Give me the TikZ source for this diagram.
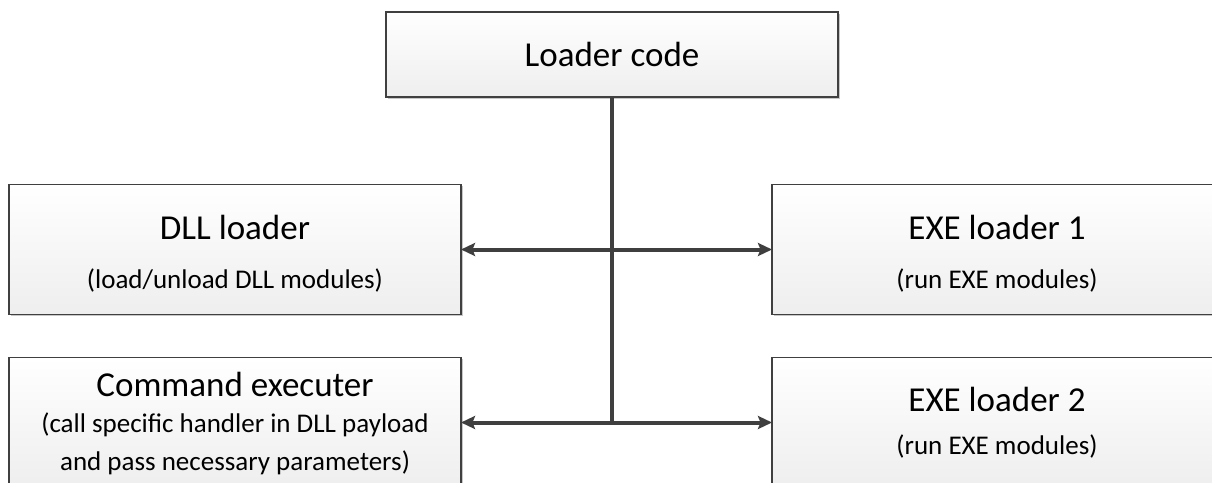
\documentclass[tikz,border=0pt]{standalone}
\usepackage{fontspec}
\setmainfont{Carlito}
\usetikzlibrary{arrows.meta,shadows}

\definecolor{edge}{HTML}{404040}
\definecolor{wire}{HTML}{3F3F3F}
\definecolor{shadegray}{HTML}{EEEEEE}

\tikzset{
  panel/.style={draw=edge, line width=1.3pt, rectangle,
    top color=white, bottom color=shadegray,
    drop shadow={shadow xshift=1.8pt, shadow yshift=-1.8pt, fill=black!22, opacity=1},
    inner sep=0pt, outer sep=0pt},
  wide/.style={panel, minimum width=452pt, minimum height=130pt},
  title/.style={font=\fontsize{35}{40}\selectfont, anchor=base, inner sep=0pt},
  sub/.style={font=\fontsize{27}{32}\selectfont, anchor=base, inner sep=0pt},
  wireline/.style={draw=wire, line width=4pt},
  link/.style={wireline, {Stealth[length=14pt,width=13pt,inset=2.5pt]}-{Stealth[length=14pt,width=13pt,inset=2.5pt]}}
}

\begin{document}
\begin{tikzpicture}[x=1pt, y=-1pt]
  \clip (0,0) rectangle (1212,482);
  \fill[white] (0,0) rectangle (1212,482);

  % boxes
  \node[panel, minimum width=452pt, minimum height=85pt] (top) at (612,54.5) {};
  \node[wide] (dll)  at (235,249.5) {};
  \node[wide] (cmd)  at (235,422.5) {};
  \node[wide, minimum width=450pt] (exe1) at (997,249.5) {};
  \node[wide, minimum width=450pt] (exe2) at (997,422.5) {};

  % labels
  \node[title] (topT) at (612,66) {Loader code};

  \node[title] (dllT) at (235,239) {DLL loader};
  \node[sub]   (dllS) at (235,288) {(load/unload DLL modules)};

  \node[title] (cmdT) at (235,396) {Command executer};
  \node[sub]   (cmdS1) at (235,432) {(call specific handler in DLL payload};
  \node[sub]   (cmdS2) at (235,470) {and pass necessary parameters)};

  \node[title] (exe1T) at (997,239) {EXE loader 1};
  \node[sub]   (exe1S) at (997,288) {(run EXE modules)};

  \node[title] (exe2T) at (997,411) {EXE loader 2};
  \node[sub]   (exe2S) at (997,454) {(run EXE modules)};

  % connectors
  \coordinate (bus) at (top.south |- cmd.east);
  \draw[wireline] (top.south) -- (bus);
  \draw[link] (dll.east) -- (exe1.west);
  \draw[link] (cmd.east) -- (exe2.west);
\end{tikzpicture}
\end{document}
